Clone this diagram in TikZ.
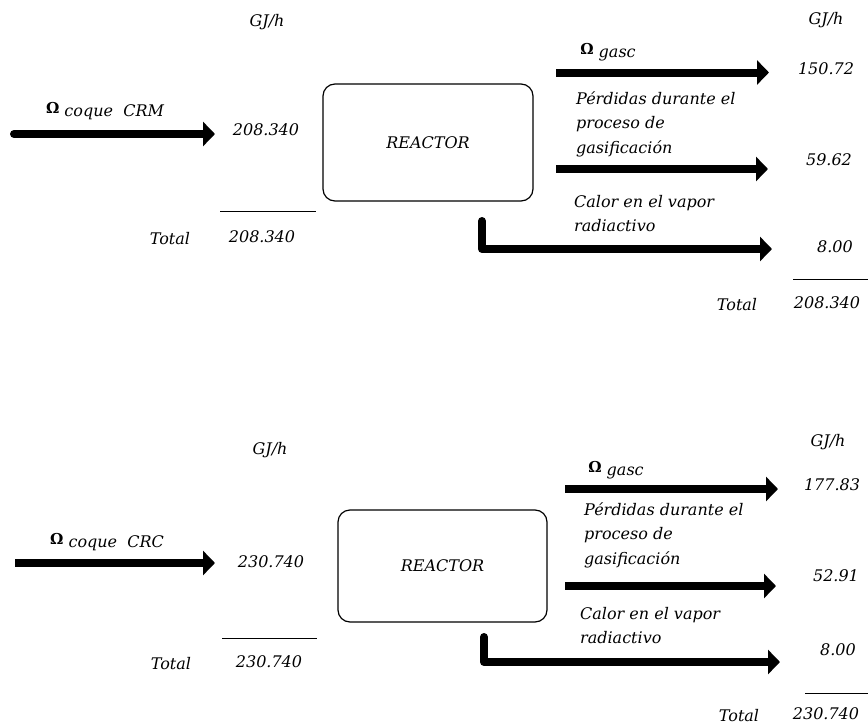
\documentclass[tikz,border=0pt]{standalone}
\usepackage{fontspec}
\setmainfont{DejaVu Serif}
\usetikzlibrary{arrows.meta, positioning}
\newcommand{\omg}{\textup{\bfseries\fontsize{15}{15}\selectfont Ω}}

\begin{document}
\begin{tikzpicture}[x=1pt, y=-1pt,
      txt/.style={inner sep=0pt, font=\fontsize{16}{24.5}\selectfont\itshape, align=left},
      reactor/.style={draw, line width=1.2pt, rounded corners=12pt,
                      font=\fontsize{16}{18}\selectfont\itshape},
      flow/.style={line width=8pt, -{Triangle[length=12pt,width=24pt]}},
      rule/.style={line width=1pt},
    ]
    \useasboundingbox (0,0) rectangle (868,728);

    % balance CRM
    \node[txt] (crm-u-in)   at (267,22)  {GJ/h};
    \node[txt] (crm-u-out)  at (826,20)  {GJ/h};
    \node[txt] (crm-lbl-in) at (105,111) {\omg\ \raisebox{-3pt}{coque\ \ CRM}};
    \node[txt] (crm-v-in)   at (266,130) {208.340};
    \node[reactor, minimum width=210pt, minimum height=117pt] (crm-r) at (428,142.5) {REACTOR};
    \node[txt] (crm-tl)     at (170,239) {Total};
    \node[txt] (crm-tv)     at (262,237) {208.340};
    \node[txt] (crm-lbl-g)  at (608,52)  {\omg\ \raisebox{-3pt}{gasc}};
    \node[txt, anchor=west] (crm-lbl-p) at (576,124) {Pérdidas durante el\\proceso de\\gasificación};
    \node[txt, anchor=west] (crm-lbl-c) at (574,213.5) {Calor en el vapor\\radiactivo};
    \node[txt] (crm-v-g)    at (826,69)  {150.72};
    \node[txt] (crm-v-p)    at (829,160) {59.62};
    \node[txt] (crm-v-c)    at (835,247) {8.00};
    \node[txt] (crm-tl-out) at (737,305) {Total};
    \node[txt] (crm-tv-out) at (827,303) {208.340};

    \coordinate (crm-in-s) at (14,134);
    \coordinate (crm-in-e) at (215,134);
    \coordinate (crm-g-s)  at (556,72.5);
    \coordinate (crm-g-e)  at (769,72.5);
    \coordinate (crm-p-s)  at (556,169);
    \coordinate (crm-p-e)  at (768,169);
    \coordinate (crm-c-s)  at (482,221);
    \coordinate (crm-c-e)  at (772,249);

    \draw[flow, line cap=round] (crm-in-s) -- (crm-in-e);
    \draw[flow] (crm-g-s) -- (crm-g-e);
    \draw[flow] (crm-p-s) -- (crm-p-e);
    \draw[flow, line cap=round, line join=round] (crm-c-s) |- (crm-c-e);
    \draw[rule] (220,211) -- (316,211);
    \draw[rule] (793,279) -- (868,279);

    % balance CRC
    \node[txt] (crc-u-in)   at (270,450) {GJ/h};
    \node[txt] (crc-u-out)  at (828,442) {GJ/h};
    \node[txt] (crc-lbl-in) at (107,542) {\omg\ \raisebox{-3pt}{coque\ \ CRC}};
    \node[txt] (crc-v-in)   at (271,562) {230.740};
    \node[reactor, minimum width=209pt, minimum height=112pt] (crc-r) at (442.5,566) {REACTOR};
    \node[txt] (crc-tl)     at (171,664) {Total};
    \node[txt] (crc-tv)     at (269,662) {230.740};
    \node[txt] (crc-lbl-g)  at (616,470) {\omg\ \raisebox{-3pt}{gasc}};
    \node[txt, anchor=west] (crc-lbl-p) at (584,535) {Pérdidas durante el\\proceso de\\gasificación};
    \node[txt, anchor=west] (crc-lbl-c) at (580,625.5) {Calor en el vapor\\radiactivo};
    \node[txt] (crc-v-g)    at (832,485) {177.83};
    \node[txt] (crc-v-p)    at (836,576) {52.91};
    \node[txt] (crc-v-c)    at (838,650) {8.00};
    \node[txt] (crc-tl-out) at (739,716) {Total};
    \node[txt] (crc-tv-out) at (826,714) {230.740};

    \coordinate (crc-in-s) at (15,563);
    \coordinate (crc-in-e) at (215,563);
    \coordinate (crc-g-s)  at (565,489);
    \coordinate (crc-g-e)  at (778,489);
    \coordinate (crc-p-s)  at (565,586);
    \coordinate (crc-p-e)  at (776,586);
    \coordinate (crc-c-s)  at (484,637);
    \coordinate (crc-c-e)  at (780,662);

    \draw[flow] (crc-in-s) -- (crc-in-e);
    \draw[flow] (crc-g-s) -- (crc-g-e);
    \draw[flow] (crc-p-s) -- (crc-p-e);
    \draw[flow, line cap=round, line join=round] (crc-c-s) |- (crc-c-e);
    \draw[rule] (222,638) -- (317,638);
    \draw[rule] (805,693) -- (868,693);
  \end{tikzpicture}
\end{document}
